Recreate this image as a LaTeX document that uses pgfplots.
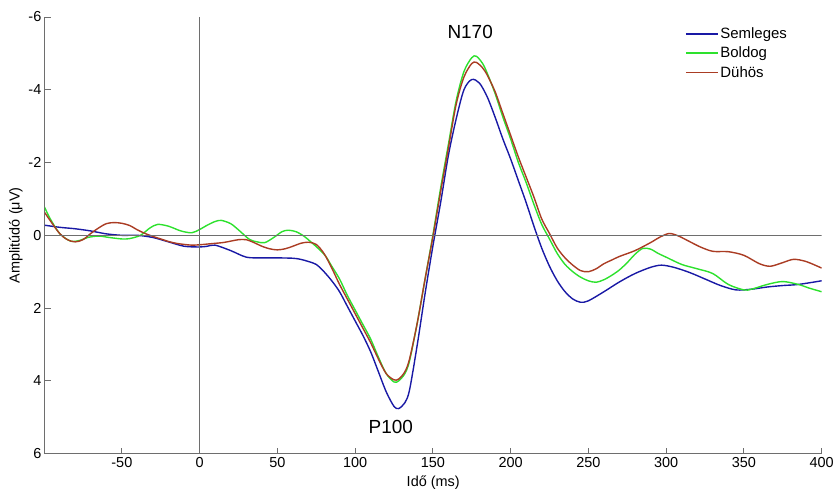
\documentclass[border=0pt]{standalone}
\usepackage{pgfplots}
\pgfplotsset{compat=1.18}
\usepackage{fontspec}
\setmainfont{Liberation Sans}

\definecolor{cSem}{RGB}{25,25,165}
\definecolor{cBol}{RGB}{45,225,45}
\definecolor{cDuh}{RGB}{170,60,35}
\definecolor{cAx}{RGB}{110,110,110}

\begin{document}
\begin{tikzpicture}
\begin{axis}[
  scale only axis, width=779pt, height=438pt,
  xmin=-99.5, xmax=400, ymin=-6, ymax=6,
  y dir=reverse,
  axis x line*=bottom, axis y line*=left,
  axis line style={cAx, line width=0.8pt},
  tick style={cAx, line width=0.8pt},
  xtick align=inside, ytick align=inside, major tick length=6pt,
  xtick={-50,0,50,100,150,200,250,300,350,400},
  xticklabels={-50,0,50,100,150,200,250,300,350,400},
  ytick={-6,-4,-2,0,2,4,6},
  yticklabels={-6,-4,-2,0,2,4,6},
  ticklabel style={font=\fontsize{14.5}{16}\selectfont},
  xlabel={Idő (ms)}, ylabel={Amplitúdó (μV)},
  label style={font=\fontsize{14.5}{16}\selectfont},
  xlabel style={yshift=-2pt},
  ylabel style={yshift=-1pt},
  legend style={at={(rel axis cs:0.82,0.985)}, anchor=north west, draw=none, fill=none,
    font=\fontsize{15}{17}\selectfont, row sep=3pt},
  legend cell align=left,
  legend image code/.code={\draw[#1, line width=1.5pt] (0pt,0pt) -- (32pt,0pt);},
]
% Semleges
\addplot[cSem, smooth, line width=1.4pt] coordinates {
(-100,-0.28)(-90,-0.22)(-80,-0.18)(-70,-0.12)(-60,-0.04)(-50,0.0)(-40,0.0)(-30,0.06)
(-20,0.18)(-10,0.3)(0,0.32)(5,0.3)(10,0.27)(20,0.42)(30,0.6)(40,0.62)(50,0.62)(60,0.63)
(65,0.66)(70,0.72)(75,0.8)(80,1.0)(85,1.25)(90,1.55)(95,1.95)(100,2.35)(105,2.75)(110,3.2)
(115,3.75)(120,4.3)(125,4.7)(128,4.76)(132,4.6)(135,4.25)(140,3.0)(145,1.6)(150,0.3)
(155,-0.9)(160,-2.2)(165,-3.2)(170,-4.0)(175,-4.28)(180,-4.18)(185,-3.8)(190,-3.25)
(195,-2.65)(200,-2.1)(205,-1.5)(210,-0.9)(215,-0.25)(220,0.35)(225,0.85)(230,1.25)(235,1.55)
(240,1.75)(245,1.84)(250,1.8)(260,1.55)(270,1.28)(280,1.05)(290,0.88)(297,0.82)(305,0.88)
(315,1.02)(325,1.2)(335,1.38)(345,1.5)(355,1.48)(365,1.42)(375,1.38)(385,1.35)(400,1.25)
};
\addlegendentry{Semleges}
% Boldog
\addplot[cBol, smooth, line width=1.4pt] coordinates {
(-100,-0.8)(-96,-0.45)(-90,-0.05)(-83,0.16)(-77,0.14)(-72,0.06)(-65,0.02)(-58,0.06)
(-50,0.1)(-45,0.09)(-38,0.0)(-32,-0.2)(-27,-0.3)(-20,-0.25)(-12,-0.12)(-5,-0.07)
(0,-0.16)(5,-0.28)(10,-0.38)(14,-0.41)(20,-0.32)(25,-0.15)(32,0.11)(37,0.18)(42,0.2)
(48,0.05)(53,-0.1)(57,-0.14)(62,-0.1)(67,0.02)(71,0.16)(76,0.35)(81,0.57)(85,0.85)
(90,1.2)(95,1.65)(100,2.05)(105,2.45)(110,2.85)(115,3.35)(120,3.8)(125,4.03)(128,4.0)
(132,3.8)(135,3.45)(140,2.4)(145,1.2)(150,0.0)(155,-1.3)(160,-2.5)(165,-3.7)(170,-4.5)
(175,-4.88)(178,-4.92)(182,-4.72)(185,-4.45)(190,-3.9)(195,-3.25)(200,-2.65)(205,-2.0)
(210,-1.45)(215,-0.85)(220,-0.3)(225,0.1)(230,0.5)(235,0.8)(240,1.0)(245,1.15)(250,1.25)
(255,1.29)(260,1.22)(265,1.1)(270,0.95)(275,0.75)(280,0.52)(285,0.36)(290,0.38)(295,0.5)
(300,0.6)(310,0.8)(320,0.92)(330,1.05)(340,1.35)(350,1.5)(355,1.48)(365,1.35)(375,1.27)
(385,1.35)(392,1.45)(400,1.55)
};
\addlegendentry{Boldog}
% Dühös
\addplot[cDuh, smooth, line width=1.4pt] coordinates {
(-100,-0.65)(-96,-0.4)(-90,-0.05)(-85,0.12)(-80,0.18)(-75,0.12)(-70,-0.05)(-65,-0.2)
(-60,-0.32)(-55,-0.35)(-50,-0.33)(-45,-0.27)(-40,-0.15)(-35,-0.05)(-30,0.03)(-25,0.1)
(-20,0.17)(-15,0.22)(-10,0.25)(-5,0.27)(0,0.26)(5,0.24)(10,0.22)(15,0.2)(20,0.16)
(25,0.12)(30,0.12)(35,0.2)(40,0.3)(45,0.37)(50,0.4)(55,0.37)(60,0.3)(65,0.22)(70,0.19)
(75,0.25)(80,0.5)(85,0.9)(90,1.35)(95,1.75)(100,2.15)(105,2.55)(110,2.95)(115,3.4)
(120,3.8)(125,3.97)(128,3.95)(132,3.75)(135,3.4)(140,2.4)(145,1.2)(150,0.05)(155,-1.2)
(160,-2.4)(165,-3.6)(170,-4.35)(175,-4.72)(178,-4.75)(182,-4.6)(185,-4.4)(190,-3.95)
(195,-3.35)(200,-2.75)(205,-2.15)(210,-1.6)(215,-1.05)(220,-0.45)(225,-0.05)(230,0.35)
(235,0.62)(240,0.82)(245,0.97)(250,1.0)(255,0.92)(260,0.78)(265,0.68)(270,0.58)(280,0.42)
(290,0.2)(296,0.05)(302,-0.05)(308,0.02)(315,0.17)(322,0.32)(330,0.44)(340,0.45)(350,0.55)
(360,0.78)(367,0.85)(375,0.75)(382,0.66)(390,0.72)(400,0.9)
};
\addlegendentry{Dühös}
\addplot[cAx, line width=0.8pt, forget plot] coordinates {(-99.5,0) (400,0)};
\addplot[cAx, line width=0.8pt, forget plot] coordinates {(0,-6) (0,6)};

\node[font=\fontsize{19}{21}\selectfont] at (axis cs:174,-5.59) {N170};
\node[font=\fontsize{19}{21}\selectfont] at (axis cs:123,5.26) {P100};
\end{axis}
\path (current axis.south west) ++(-45pt,-34pt) rectangle ++(837pt,489pt);
\end{tikzpicture}
\end{document}
